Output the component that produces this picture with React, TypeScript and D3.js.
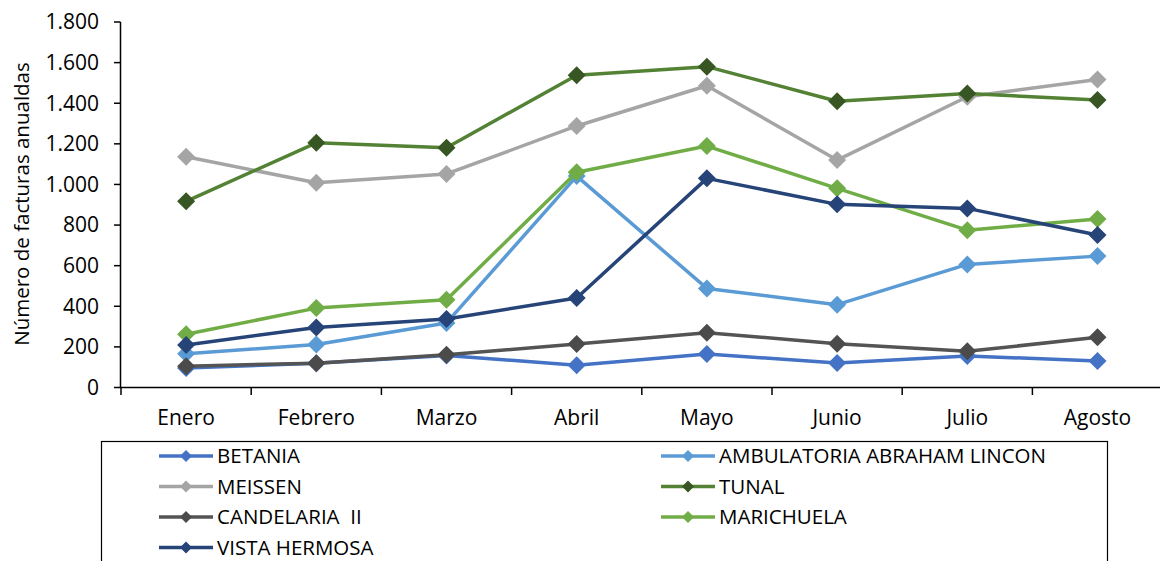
import React from "react";
import * as d3 from "d3";

const months = ["Enero", "Febrero", "Marzo", "Abril", "Mayo", "Junio", "Julio", "Agosto"];
const yTicks = [0, 200, 400, 600, 800, 1000, 1200, 1400, 1600, 1800];

const betania = [96, 119, 158, 110, 165, 121, 155, 131];
const ambulatoria = [166, 212, 318, 1041, 488, 408, 606, 647];
const meissen = [1136, 1008, 1052, 1288, 1486, 1120, 1432, 1517];
const tunal = [917, 1205, 1181, 1538, 1580, 1410, 1448, 1416];
const candelaria = [105, 120, 161, 214, 270, 216, 178, 247];
const marichuela = [262, 391, 432, 1060, 1189, 981, 775, 830];
const vistaHermosa = [209, 296, 337, 441, 1030, 902, 882, 751];

const seriesNames = [
  "BETANIA",
  "AMBULATORIA ABRAHAM LINCON",
  "MEISSEN",
  "TUNAL",
  "CANDELARIA  II",
  "MARICHUELA",
  "VISTA HERMOSA",
];
const seriesValues = [betania, ambulatoria, meissen, tunal, candelaria, marichuela, vistaHermosa];
const lineColors = ["#4472C4", "#5B9BD5", "#A5A5A5", "#548235", "#545454", "#70AD47", "#264478"];
const markerColors = ["#4472C4", "#5B9BD5", "#A5A5A5", "#375623", "#4B4B4B", "#70AD47", "#264478"];

const W = 1160;
const H = 561;
const FONT = "'Open Sans', 'Noto Sans', sans-serif";

function diamond(cx: number, cy: number, r: number) {
  return `M${cx},${cy - r}L${cx + r},${cy}L${cx},${cy + r}L${cx - r},${cy}Z`;
}

export default function App() {
  const x = d3.scaleBand<string>().domain(months).range([121, 1162.6]);
  const y = d3.scaleLinear().domain([0, 1800]).range([387.5, 22]);
  const line = d3
    .line<number>()
    .x((_, i) => (x(months[i]) as number) + x.bandwidth() / 2)
    .y((d) => y(d));

  const bandEdges = months.map((m) => x(m) as number).concat([x.range()[1]]);

  // legend layout: two columns, filled row by row
  const legendCols = [159, 661];
  const legendRowY = (r: number) => 456 + r * 30.5;

  return (
    <svg
      width={W}
      height={H}
      style={{ position: "absolute", left: 0, top: 0, background: "#fff" }}
      fontFamily={FONT}
    >
      {/* y axis */}
      <line x1={120.5} x2={120.5} y1={y(1800)} y2={y(0)} stroke="#000" strokeWidth={1.5} />
      {yTicks.map((t) => (
        <g key={t}>
          <line x1={114} x2={120.5} y1={y(t)} y2={y(t)} stroke="#000" strokeWidth={1.5} />
          <text
            x={99}
            y={y(t)}
            dy="0.35em"
            textAnchor="end"
            fontSize={21}
            fill="#000"
          >
            {d3.format(",")(t).replace(/,/g, ".")}
          </text>
        </g>
      ))}
      <text
        transform="translate(22,204) rotate(-90)"
        textAnchor="middle"
        dy="0.35em"
        fontSize={20.5}
        fill="#000"
      >
        Número de facturas anualdas
      </text>

      {/* x axis */}
      <line x1={120} x2={W} y1={387.5} y2={387.5} stroke="#000" strokeWidth={1.5} />
      {bandEdges.map((e, i) => (
        <line key={i} x1={e} x2={e} y1={387.5} y2={395} stroke="#000" strokeWidth={1.5} />
      ))}
      {months.map((m) => (
        <text
          key={m}
          x={(x(m) as number) + x.bandwidth() / 2}
          y={418}
          dy="0.35em"
          textAnchor="middle"
          fontSize={21}
          fill="#000"
        >
          {m}
        </text>
      ))}

      {/* series */}
      {seriesValues.map((vals, s) => (
        <g key={seriesNames[s]}>
          <path
            d={line(vals) as string}
            fill="none"
            stroke={lineColors[s]}
            strokeWidth={3.5}
            strokeLinejoin="round"
          />
          {vals.map((v, i) => (
            <path
              key={i}
              d={diamond((x(months[i]) as number) + x.bandwidth() / 2, y(v), 9)}
              fill={markerColors[s]}
            />
          ))}
        </g>
      ))}

      {/* legend */}
      <rect x={101.5} y={441.5} width={1006} height={140} fill="none" stroke="#000" strokeWidth={1.2} />
      {seriesNames.map((name, s) => {
        const col = s % 2;
        const row = Math.floor(s / 2);
        const lx = legendCols[col];
        const ly = legendRowY(row);
        return (
          <g key={name}>
            <line x1={lx} x2={lx + 54} y1={ly} y2={ly} stroke={lineColors[s]} strokeWidth={3.5} />
            <path d={diamond(lx + 27, ly, 6)} fill={markerColors[s]} />
            <text
              x={lx + 58}
              y={ly}
              dy="0.35em"
              fontSize={20.5}
              fill="#000"
              style={{ whiteSpace: "pre" }}
            >
              {name}
            </text>
          </g>
        );
      })}
    </svg>
  );
}
